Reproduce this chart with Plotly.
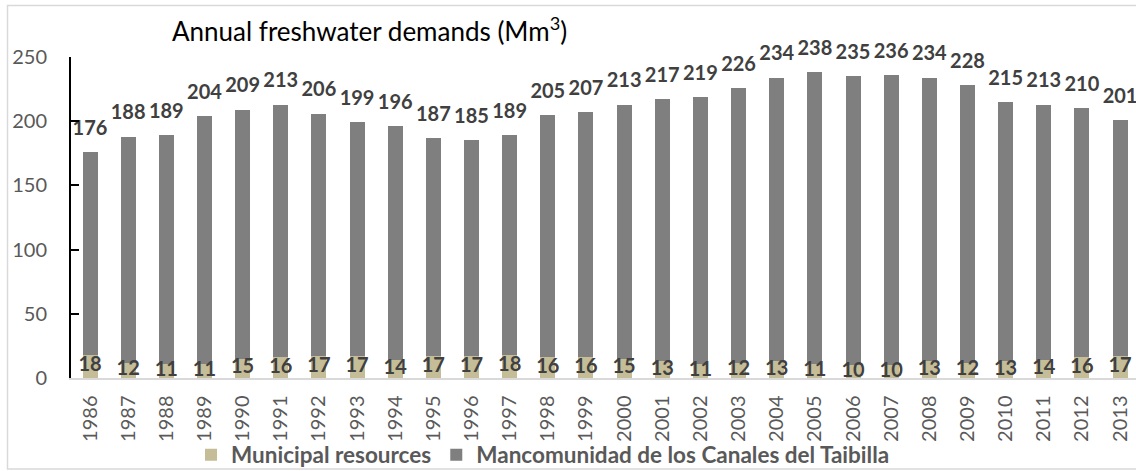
import plotly.graph_objects as go

years = [str(y) for y in range(1986, 2014)]
totals = [176, 188, 189, 204, 209, 213, 206, 199, 196, 187, 185, 189, 205, 207,
          213, 217, 219, 226, 234, 238, 235, 236, 234, 228, 215, 213, 210, 201]
municipal = [18, 12, 11, 11, 15, 16, 17, 17, 14, 17, 17, 18, 16, 16,
             15, 13, 11, 12, 13, 11, 10, 10, 13, 12, 13, 14, 16, 17]
mancomunidad = [t - m for t, m in zip(totals, municipal)]

FONT = "Lato"
TAN = "#C4BD97"
GRAY = "#7F7F7F"

W, H = 1136, 471
L, T, B = 71, 57, 93
PW, PH = W - L, H - T - B

fig = go.Figure()
fig.add_trace(go.Bar(x=years, y=municipal, name="Municipal resources",
                     marker=dict(color=TAN, line=dict(width=0)), hoverinfo="skip"))
fig.add_trace(go.Bar(x=years, y=mancomunidad, name="Mancomunidad de los Canales del Taibilla",
                     marker=dict(color=GRAY, line=dict(width=0)), hoverinfo="skip"))
# total labels
fig.add_trace(go.Scatter(x=years, y=totals, mode="markers+text", text=[str(t) for t in totals],
                         textposition="top center", showlegend=False, hoverinfo="skip",
                         marker=dict(size=18, opacity=0),
                         textfont=dict(family=FONT, size=20, color="#404040", weight="bold"),
                         cliponaxis=False))
# municipal labels
fig.add_trace(go.Scatter(x=years, y=[m / 2 for m in municipal], mode="text",
                         text=[str(m) for m in municipal], textposition="middle center",
                         showlegend=False, hoverinfo="skip",
                         textfont=dict(family=FONT, size=20, color="#404040", weight="bold"),
                         cliponaxis=False))

fig.update_layout(
    width=W, height=H,
    barmode="stack", bargap=0.607,
    plot_bgcolor="white", paper_bgcolor="white",
    margin=dict(l=L, r=0, t=T, b=B, autoexpand=False),
    font=dict(family=FONT, color="#595959"),
    title=dict(text="Annual freshwater demands (Mm<sup>3</sup>)", x=172 / W, xanchor="left",
               xref="container", y=1 - 32 / H, yanchor="middle", yref="container",
               font=dict(family=FONT, size=26, color="#000000")),
    legend=dict(orientation="h", xref="container", yref="container",
                x=191 / W, xanchor="left", y=1 - 455 / H, yanchor="middle",
                bgcolor="rgba(0,0,0,0)",
                font=dict(family=FONT, size=22.5, color="#595959", weight="bold"),
                traceorder="normal"),
    xaxis=dict(type="category", range=[-0.498, 27.418], tickangle=-90,
               tickfont=dict(family=FONT, size=20, color="#595959"),
               showline=True, linecolor="#D9D9D9", linewidth=1.5,
               ticks="", showgrid=False, ticklabelstandoff=8),
    yaxis=dict(range=[0, 250], tickvals=[0, 50, 100, 150, 200, 250],
               tickfont=dict(family=FONT, size=20, color="#595959"),
               showline=True, linecolor="#000000", linewidth=2,
               ticks="inside", ticklen=8, tickwidth=2, tickcolor="#000000",
               showgrid=False, zeroline=False, ticklabelstandoff=18),
    shapes=[dict(type="rect", xref="paper", yref="paper",
                 x0=(7.5 - L) / PW, x1=(W + 20 - L) / PW,
                 y0=(T + PH - 469) / PH, y1=(T + PH - 5.5) / PH,
                 line=dict(color="#D9D9D9", width=1.5), layer="below")],
)

fig.write_html("out.html", config=dict(displayModeBar=False, staticPlot=True),
               post_script="document.body.style.margin='0';document.body.style.overflow='hidden';")
